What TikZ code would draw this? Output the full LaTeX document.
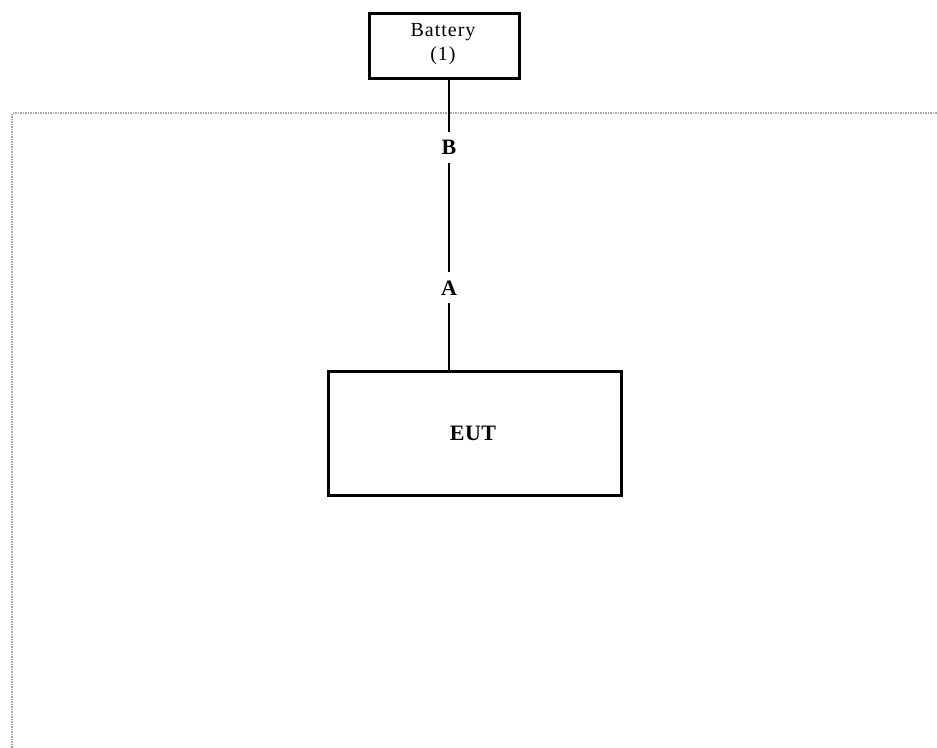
\documentclass[tikz,border=0pt]{standalone}
\usepackage{fontspec}
\setmainfont{Liberation Serif}
\begin{document}
\begin{tikzpicture}[x=1pt,y=-1pt,
  box/.style={draw=black,line width=2.6pt,inner sep=0pt,anchor=north west},
  wire/.style={draw=black,line width=2.6pt},
  lbl/.style={fill=white,inner sep=0pt,minimum height=31pt,minimum width=20pt,font=\fontsize{22}{24}\selectfont\bfseries},
  frame/.style={draw=gray!70,line width=1.6pt,dash pattern=on 1.5pt off 1pt}]
\useasboundingbox (0,0) rectangle (937,747);
\clip (0,0) rectangle (937,747);
\fill[white] (0,0) rectangle (937,747);
\draw[frame] (12,760) -- (12,113) -- (950,113);
\node[box,minimum width=150pt,minimum height=65pt] (bat) at (368,12) {};
\node[align=center,font=\fontsize{20}{24}\selectfont\addfontfeatures{LetterSpace=5}] (battxt) at (443,44) {Battery\\(1)};
\node[box,minimum width=293pt,minimum height=124pt] (eut) at (327,370) {};
\node[font=\fontsize{22}{24}\selectfont\bfseries\addfontfeatures{LetterSpace=2}] (euttxt) at (473,433) {EUT};
\coordinate (top) at (449,77);
\coordinate (bot) at (449,370);
\draw[wire] (top) -- (bot)
  node[lbl,pos=0.24] (B) {B}
  node[lbl,pos=0.72] (A) {A};
\end{tikzpicture}
\end{document}
